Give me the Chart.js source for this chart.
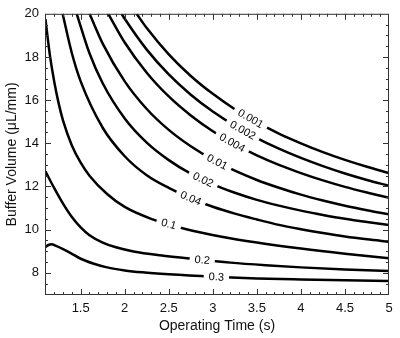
<!DOCTYPE html>
<html><head><meta charset="utf-8">
<script src="https://cdn.jsdelivr.net/npm/chart.js@4.4.0/dist/chart.umd.min.js"></script>
<style>html,body{margin:0;padding:0;background:#fff}canvas{display:block}</style>
</head><body>
<canvas id="c" width="400" height="338"></canvas>
<script>
// ---- data ----
const levels = ['0.001','0.002','0.004','0.01','0.02','0.04','0.1','0.2','0.3'];
const xTicks = [1.5, 2, 2.5, 3, 3.5, 4, 4.5, 5];
const yTicks = [8, 10, 12, 14, 16, 18, 20];

const c0001X = [2.135, 2.25, 2.5, 2.75, 3.0, 3.25, 3.5, 3.75, 4.0, 4.25, 4.5, 4.75, 5];
const c0001Y = [20, 19.34, 18.12, 17.12, 16.29, 15.58, 14.98, 14.45, 14.0, 13.59, 13.23, 12.91, 12.62];

const c0002X = [1.965, 2.0, 2.25, 2.5, 2.75, 3.0, 3.25, 3.5, 3.75, 4.0, 4.25, 4.5, 4.75, 5];
const c0002Y = [20, 19.77, 18.34, 17.19, 16.25, 15.47, 14.81, 14.24, 13.75, 13.32, 12.94, 12.60, 12.30, 12.03];

const c0004X = [1.813, 2.0, 2.25, 2.5, 2.75, 3.0, 3.25, 3.5, 3.75, 4.0, 4.25, 4.5, 4.75, 5];
const c0004Y = [20, 18.67, 17.27, 16.17, 15.29, 14.56, 13.96, 13.44, 13.0, 12.62, 12.28, 11.98, 11.72, 11.48];

const c001X = [1.601, 1.75, 2.0, 2.25, 2.5, 2.75, 3.0, 3.25, 3.5, 3.75, 4.0, 4.25, 4.5, 4.75, 5];
const c001Y = [20, 18.62, 16.87, 15.59, 14.62, 13.86, 13.24, 12.73, 12.30, 11.94, 11.62, 11.35, 11.11, 10.90, 10.71];

const c002X = [1.455, 1.6, 1.75, 2.0, 2.25, 2.5, 2.75, 3.0, 3.25, 3.5, 3.75, 4.0, 4.25, 4.5, 4.75, 5];
const c002Y = [20, 18.17, 16.78, 15.15, 14.03, 13.22, 12.59, 12.10, 11.71, 11.38, 11.11, 10.88, 10.68, 10.50, 10.35, 10.21];

const c004X = [1.295, 1.4, 1.5, 1.75, 2.0, 2.25, 2.5, 2.75, 3.0, 3.25, 3.5, 3.75, 4.0, 4.25, 4.5, 4.75, 5];
const c004Y = [20, 18.17, 16.87, 14.72, 13.40, 12.52, 11.93, 11.45, 11.06, 10.74, 10.47, 10.22, 10.02, 9.84, 9.68, 9.55, 9.44];

const c01X = [1.1, 1.15, 1.2, 1.25, 1.3, 1.4, 1.5, 1.6, 1.8, 2.0, 2.3, 2.7, 3.1, 3.5, 4.0, 4.5, 5];
const c01Y = [19.75, 18.1, 16.85, 15.85, 15.05, 13.9, 13.1, 12.5, 11.65, 11.05, 10.5, 10.02, 9.67, 9.4, 9.12, 8.88, 8.67];

const c02X = [1.1, 1.2, 1.3, 1.4, 1.5, 1.6, 1.75, 1.9, 2.1, 2.4, 2.8, 3.2, 3.6, 4.0, 4.5, 5];
const c02Y = [12.7, 11.92, 11.2, 10.58, 10.1, 9.74, 9.4, 9.18, 8.99, 8.81, 8.63, 8.47, 8.35, 8.25, 8.15, 8.08];

const c03X = [1.1, 1.14, 1.17, 1.22, 1.3, 1.4, 1.5, 1.65, 1.8, 2.0, 2.2, 2.5, 3.0, 3.5, 4.0, 4.5, 5];
const c03Y = [9.2, 9.3, 9.32, 9.25, 9.1, 8.88, 8.65, 8.42, 8.25, 8.11, 8.02, 7.93, 7.82, 7.74, 7.69, 7.65, 7.62];

// x position (data units) of each inline contour label
const labelAt = [3.43, 3.34, 3.22, 3.05, 2.89, 2.75, 2.5, 2.88, 3.04];

// ---- build chart ----
const curveXs = [c0001X, c0002X, c0004X, c001X, c002X, c004X, c01X, c02X, c03X];
const curveYs = [c0001Y, c0002Y, c0004Y, c001Y, c002Y, c004Y, c01Y, c02Y, c03Y];

const datasets = levels.map((lv, i) => ({
  label: lv,
  data: curveXs[i].map((x, j) => ({x: x, y: curveYs[i][j]})),
  showLine: true,
  borderColor: '#000',
  borderWidth: 2.5,
  pointRadius: 0,
  fill: false,
  cubicInterpolationMode: 'monotone'
}));

const FONT = '"Liberation Sans", Arial, sans-serif';

function yPixAt(meta, px) {
  const pts = meta.data;
  for (let k = 0; k < pts.length - 1; k++) {
    const a = pts[k], b = pts[k + 1];
    if (px >= a.x && px <= b.x) {
      const t = (px - a.x) / (b.x - a.x || 1);
      return a.y + t * (b.y - a.y);
    }
  }
  return pts[pts.length - 1].y;
}

const decor = {
  id: 'decor',
  afterDatasetsDraw(chart) {
    const {ctx, chartArea: a, scales: {x, y}} = chart;
    // inline labels
    ctx.save();
    ctx.font = '11px ' + FONT;
    ctx.textAlign = 'center';
    ctx.textBaseline = 'middle';
    levels.forEach((lv, i) => {
      const meta = chart.getDatasetMeta(i);
      const px = x.getPixelForValue(labelAt[i]);
      const py = yPixAt(meta, px);
      const ang = Math.atan2(yPixAt(meta, px + 8) - yPixAt(meta, px - 8), 16);
      const w = ctx.measureText(lv).width + 10;
      ctx.save();
      ctx.translate(px, py);
      ctx.rotate(ang);
      ctx.fillStyle = '#fff';
      ctx.fillRect(-w / 2, -5, w, 10);
      ctx.fillStyle = '#000';
      ctx.fillText(lv, 0, 0.5);
      ctx.restore();
    });
    ctx.restore();
    // frame and inward ticks
    ctx.save();
    ctx.strokeStyle = '#333';
    ctx.lineWidth = 1;
    ctx.beginPath();
    for (let i = 11; i <= 49; i++) {
      const px = Math.round(x.getPixelForValue(i / 10)) + 0.5;
      const L = (i % 5 === 0) ? 6 : 3;
      ctx.moveTo(px, a.bottom); ctx.lineTo(px, a.bottom - L);
      ctx.moveTo(px, a.top); ctx.lineTo(px, a.top + L);
    }
    for (let i = 15; i <= 39; i++) {
      const py = Math.round(y.getPixelForValue(i / 2)) + 0.5;
      const L = (i % 4 === 0) ? 6 : 3;
      ctx.moveTo(a.left, py); ctx.lineTo(a.left + L, py);
      ctx.moveTo(a.right, py); ctx.lineTo(a.right - L, py);
    }
    ctx.stroke();
    ctx.strokeRect(a.left + 0.5, a.top + 0.5, a.right - a.left - 1, a.bottom - a.top - 1);
    ctx.restore();
  }
};

new Chart(document.getElementById('c'), {
  type: 'scatter',
  data: {datasets},
  plugins: [decor],
  options: {
    responsive: false,
    animation: false,
    layout: {padding: {top: 7, right: 11, left: 0, bottom: 0}},
    plugins: {legend: {display: false}, tooltip: {enabled: false}},
    scales: {
      x: {
        type: 'linear', min: 1.095, max: 5,
        afterBuildTicks: s => { s.ticks = xTicks.map(v => ({value: v})); },
        afterFit: s => { s.height = 43; },
        grid: {display: false, drawTicks: false},
        border: {display: false},
        ticks: {padding: 6, color: '#111', font: {family: FONT, size: 13}, maxRotation: 0, autoSkip: false, callback: v => String(v)},
        title: {display: true, text: 'Operating Time (s)', color: '#111', font: {family: FONT, size: 14}, padding: {top: 0, bottom: 3}}
      },
      y: {
        type: 'linear', min: 6.97, max: 20,
        afterBuildTicks: s => { s.ticks = yTicks.map(v => ({value: v})); },
        afterFit: s => { s.width = 45; },
        grid: {display: false, drawTicks: false},
        border: {display: false},
        ticks: {padding: 6, color: '#111', font: {family: FONT, size: 13}, autoSkip: false, callback: v => String(v)},
        title: {display: true, text: 'Buffer Volume (μL/mm)', color: '#111', font: {family: FONT, size: 14}, padding: {top: 4, bottom: 0}}
      }
    }
  }
});
</script>
</body></html>
